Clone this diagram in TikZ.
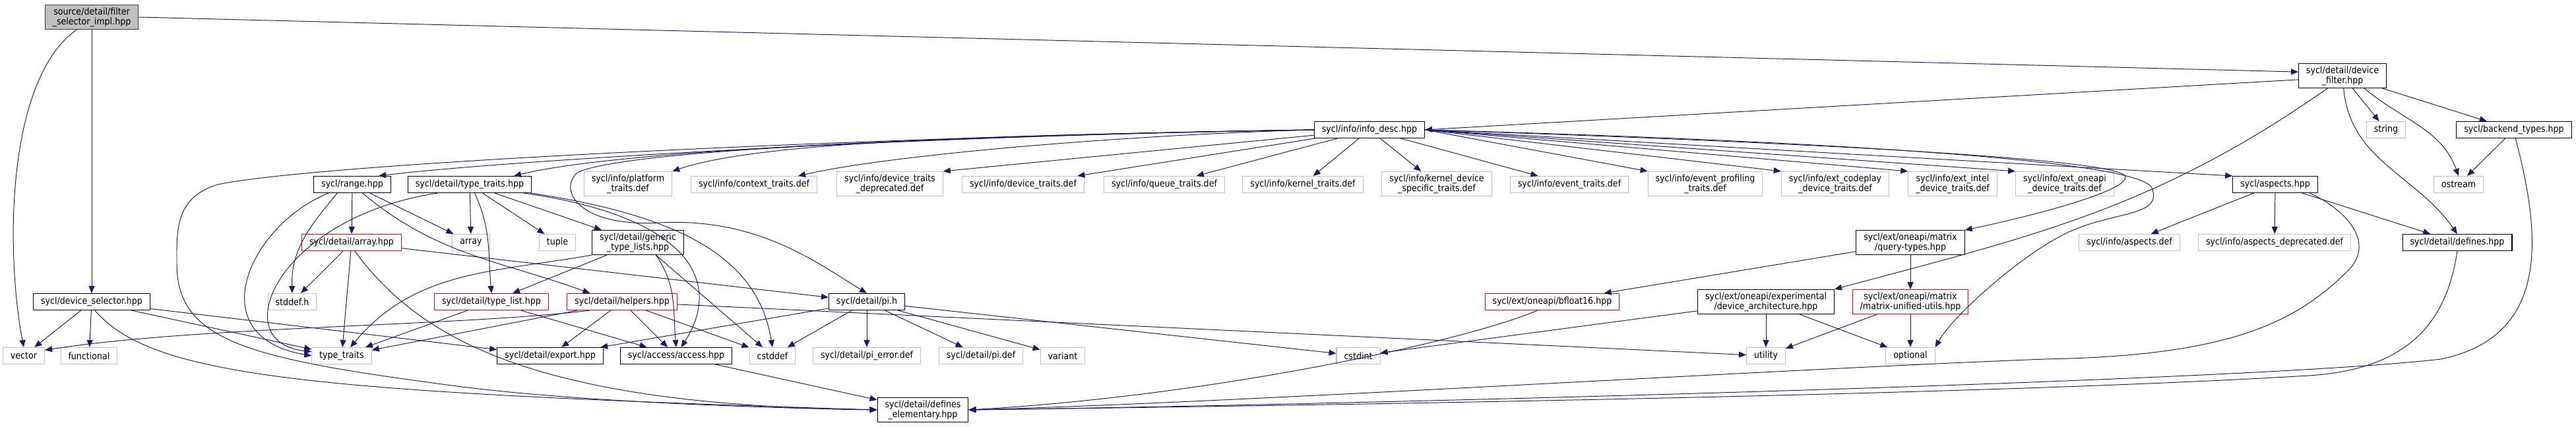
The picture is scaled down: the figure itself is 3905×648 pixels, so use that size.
\documentclass[tikz,border=0pt]{standalone}
\usepackage{fontspec}
\newfontfamily\graphfont{DejaVu Sans Condensed}
\usepackage{tikz}
\usetikzlibrary{arrows.meta,positioning}
\definecolor{edgeblue}{HTML}{191970}
\definecolor{extgray}{HTML}{BFBFBF}
\definecolor{rootgray}{HTML}{404040}

\begin{document}
\begin{tikzpicture}[x=0.02cm,y=-0.02cm,
  box/.style={draw,font=\graphfont\fontsize{8}{8.6}\selectfont,align=center,
    inner xsep=0.23cm,inner ysep=0.08cm,minimum height=0.5cm,line width=0.6pt},
  doc/.style={box,draw=black},
  ext/.style={box,draw=extgray},
  trunc/.style={box,draw=red},
  root/.style={box,draw=rootgray,fill=extgray},
  inc/.style={draw=edgeblue,line width=0.55pt,-{Triangle[length=0.22cm,width=0.18cm]}}
]
  \useasboundingbox (0,0) rectangle (3905,648);

  \node[root] (filt) at (139,26) {source/detail/filter\\\_selector\_impl.hpp};
  \node[doc] (devfilter) at (3551,115) {sycl/detail/device\\\_filter.hpp};
  \node[doc] (info) at (2076,197) {sycl/info/info\_desc.hpp};
  \node[ext] (string) at (3617,197) {string};
  \node[doc] (backend) at (3811,197) {sycl/backend\_types.hpp};

  \node[doc] (range) at (534,280) {sycl/range.hpp};
  \node[doc] (dtt) at (712,280) {sycl/detail/type\_traits.hpp};
  \node[ext] (platform) at (952,279) {sycl/info/platform\\\_traits.def};
  \node[ext] (context) at (1143,280) {sycl/info/context\_traits.def};
  \node[ext] (devtrdep) at (1349,279) {sycl/info/device\_traits\\\_deprecated.def};
  \node[ext] (devtr) at (1551,280) {sycl/info/device\_traits.def};
  \node[ext] (queue) at (1765,280) {sycl/info/queue\_traits.def};
  \node[ext] (kernel) at (1975,280) {sycl/info/kernel\_traits.def};
  \node[ext] (kds) at (2178,279) {sycl/info/kernel\_device\\\_specific\_traits.def};
  \node[ext] (event) at (2379,280) {sycl/info/event\_traits.def};
  \node[ext] (evprof) at (2585,279) {sycl/info/event\_profiling\\\_traits.def};
  \node[ext] (codeplay) at (2782,279) {sycl/info/ext\_codeplay\\\_device\_traits.def};
  \node[ext] (intel) at (2960,279) {sycl/info/ext\_intel\\\_device\_traits.def};
  \node[ext] (oneapi) at (3130,279) {sycl/info/ext\_oneapi\\\_device\_traits.def};
  \node[doc] (aspects) at (3449,280) {sycl/aspects.hpp};
  \node[ext] (ostream) at (3727,280) {ostream};

  \node[trunc] (arrayhpp) at (533,368) {sycl/detail/array.hpp};
  \node[ext] (array) at (714,368) {array};
  \node[ext] (tuple) at (845,368) {tuple};
  \node[doc] (generic) at (967,368) {sycl/detail/generic\\\_type\_lists.hpp};
  \node[doc] (query) at (2896,368) {sycl/ext/oneapi/matrix\\/query-types.hpp};
  \node[ext] (aspdef) at (3228,368) {sycl/info/aspects.def};
  \node[ext] (aspdep) at (3448,368) {sycl/info/aspects\_deprecated.def};
  \node[doc] (defines) at (3725,368) {sycl/detail/defines.hpp};

  \node[doc] (devsel) at (139,458) {sycl/device\_selector.hpp};
  \node[ext] (stddef) at (443,458) {stddef.h};
  \node[trunc] (typelist) at (745,458) {sycl/detail/type\_list.hpp};
  \node[trunc] (helpers) at (943,458) {sycl/detail/helpers.hpp};
  \node[doc] (pih) at (1314,458) {sycl/detail/pi.h};
  \node[trunc] (bfloat) at (2353,458) {sycl/ext/oneapi/bfloat16.hpp};
  \node[doc] (devarch) at (2677,458) {sycl/ext/oneapi/experimental\\/device\_architecture.hpp};
  \node[trunc] (matutil) at (2896,458) {sycl/ext/oneapi/matrix\\/matrix-unified-utils.hpp};

  \node[ext] (vector) at (36,540) {vector};
  \node[ext] (functional) at (135,540) {functional};
  \node[ext] (typetraits) at (518,540) {type\_traits};
  \node[doc] (export) at (834,540) {sycl/detail/export.hpp};
  \node[doc] (access) at (1025,540) {sycl/access/access.hpp};
  \node[ext] (cstddef) at (1171,540) {cstddef};
  \node[ext] (pierror) at (1314,540) {sycl/detail/pi\_error.def};
  \node[ext] (pidef) at (1487,540) {sycl/detail/pi.def};
  \node[ext] (variant) at (1611,540) {variant};
  \node[ext] (cstdint) at (2059,540) {cstdint};
  \node[ext] (utility) at (2677,540) {utility};
  \node[ext] (optional) at (2896,540) {optional};

  \node[doc] (defel) at (1399,622) {sycl/detail/defines\\\_elementary.hpp};

  \draw[inc] (filt) -- (devsel);
  \draw[inc] (filt.220) .. controls (10,120) and (8,380) .. (vector.north);
  \draw[inc] (filt.east) -- (devfilter.175);

  \draw[inc] (devsel) -- (vector);
  \draw[inc] (devsel) -- (functional);
  \draw[inc] (devsel) -- (typetraits);
  \draw[inc] (devsel) -- (export);
  \draw[inc] (devsel.290) .. controls (230,570) and (450,595) .. (defel.west);

  \draw[inc] (devfilter.185) -- (info.east);
  \draw[inc] (devfilter) -- (string);
  \draw[inc] (devfilter) -- (backend);
  \draw[inc] (devfilter.-30) to[out=-40,in=110] (ostream.north);
  \draw[inc] (devfilter.-85) to[out=-85,in=125] (defines.north);
  \draw[inc] (devfilter.-140) to[out=-145,in=15] (devarch.north east);

  \draw[inc] (backend) -- (ostream);
  \draw[inc] (backend.-80) .. controls (3850,350) and (3870,510) .. (3700,545)
    .. controls (3400,580) and (2000,615) .. (defel.east);

  \draw[inc] (info.west) .. controls (1400,205) and (750,245) .. (range.18);
  \draw[inc] (info.west) .. controls (1500,205) and (950,225) .. (dtt.11);
  \draw[inc] (info.west) .. controls (1500,205) and (1150,215) .. (platform.north east);
  \draw[inc] (info.west) .. controls (1700,205) and (1350,235) .. (context.11);
  \draw[inc] (info) -- (devtrdep.north east);
  \draw[inc] (info) -- (devtr);
  \draw[inc] (info) -- (queue);
  \draw[inc] (info) -- (kernel);
  \draw[inc] (info) -- (kds);
  \draw[inc] (info) -- (event);
  \draw[inc] (info.east) -- (evprof.north west);
  \draw[inc] (info.east) -- (codeplay.north west);
  \draw[inc] (info.east) -- (intel.north west);
  \draw[inc] (info.east) -- (oneapi.north west);
  \draw[inc] (info.east) -- (aspects.north west);
  \draw[inc] (info.east) .. controls (2700,215) and (3215,240) .. (3222,268)
    .. controls (3226,290) and (3080,328) .. (query.north east);
  \draw[inc] (info.east) .. controls (2700,212) and (3240,240) .. (3262,285)
    .. controls (3280,330) and (3200,320) .. (3130,355)
    .. controls (3060,390) and (2960,480) .. (optional.north east);
  \draw[inc] (info.west) .. controls (1500,205) and (950,225) .. (875,262)
    .. controls (845,290) and (880,345) .. (1000,338)
    .. controls (1150,330) and (1240,400) .. (pih.north);
  \draw[inc] (info.west) .. controls (1400,205) and (500,245) .. (330,280)
    .. controls (265,300) and (268,350) .. (268,400)
    .. controls (268,520) and (380,545) .. (700,587)
    .. controls (900,612) and (1200,620) .. (defel.west);

  \draw[inc] (range) -- (arrayhpp);
  \draw[inc] (range) -- (array);
  \draw[inc] (range.210) to[out=-130,in=92] (stddef.north);
  \draw[inc] (range.200) .. controls (380,340) and (300,510) .. (typetraits.west);
  \draw[inc] (range.-40) to[out=-40,in=160] (helpers.165);

  \draw[inc] (dtt) -- (array);
  \draw[inc] (dtt.-60) to[out=-65,in=95] (typelist.north);
  \draw[inc] (dtt) -- (tuple);
  \draw[inc] (dtt) -- (generic);
  \draw[inc] (dtt.195) .. controls (420,330) and (340,520) .. (typetraits.172);
  \draw[inc] (dtt.-9) .. controls (1050,330) and (1095,430) .. (access.60);
  \draw[inc] (dtt.-8) .. controls (1050,330) and (1150,400) .. (cstddef.north);

  \draw[inc] (arrayhpp) -- (stddef);
  \draw[inc] (arrayhpp) -- (typetraits);
  \draw[inc] (arrayhpp.-70) .. controls (640,520) and (820,615) .. (defel.west);
  \draw[inc] (arrayhpp) -- (pih);

  \draw[inc] (generic) -- (typelist);
  \draw[inc] (generic.south west) to[out=190,in=50] (typetraits.45);
  \draw[inc] (generic.-35) to[out=-55,in=95] (access.north);
  \draw[inc] (generic.-35) -- (cstddef);

  \draw[inc] (typelist) -- (typetraits);
  \draw[inc] (typelist) -- (access);

  \draw[inc] (helpers.-165) .. controls (700,495) and (300,495) .. (vector.15);
  \draw[inc] (helpers) -- (typetraits);
  \draw[inc] (helpers) -- (export);
  \draw[inc] (helpers) -- (access);
  \draw[inc] (helpers) -- (cstddef);
  \draw[inc] (helpers) -- (utility);

  \draw[inc] (pih) -- (export);
  \draw[inc] (pih) -- (cstddef);
  \draw[inc] (pih) -- (pierror);
  \draw[inc] (pih) -- (pidef);
  \draw[inc] (pih) -- (variant);
  \draw[inc] (pih) -- (cstdint);

  \draw[inc] (access) -- (defel);
  \draw[inc] (bfloat.-150) .. controls (2230,515) and (1850,600) .. (defel.east);

  \draw[inc] (query) -- (bfloat);
  \draw[inc] (query) -- (matutil);
  \draw[inc] (devarch) -- (cstdint);
  \draw[inc] (devarch) -- (utility);
  \draw[inc] (devarch) -- (optional);
  \draw[inc] (matutil) -- (utility);
  \draw[inc] (matutil) -- (optional);

  \draw[inc] (aspects) -- (aspdef);
  \draw[inc] (aspects) -- (aspdep);
  \draw[inc] (aspects) -- (defines);
  \draw[inc] (aspects.-14) .. controls (3560,320) and (3600,370) .. (3560,410)
    .. controls (3480,490) and (3380,540) .. (3100,545)
    .. controls (2700,560) and (1900,610) .. (defel.east);
  \draw[inc] (defines.south) .. controls (3710,480) and (3660,560) .. (3500,570)
    .. controls (3000,600) and (2000,615) .. (defel.east);
\end{tikzpicture}
\end{document}
